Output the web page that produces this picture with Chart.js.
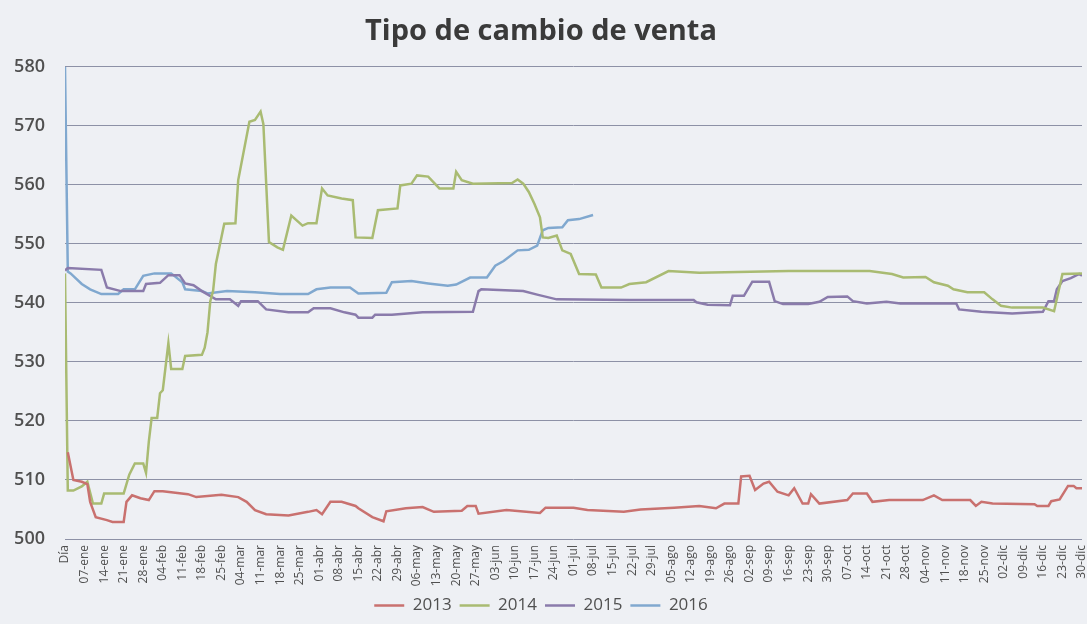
<!DOCTYPE html>
<html lang="es">
<head>
<meta charset="utf-8">
<title>Tipo de cambio de venta</title>
<script src="https://cdn.jsdelivr.net/npm/chart.js@4/dist/chart.umd.min.js"></script>
<style>
    html, body { margin: 0; padding: 0; background: #eef0f4; }
    #wrap { width: 1087px; height: 624px; }
</style>
</head>
<body>
<div id="wrap"><canvas id="tipoCambioChart"></canvas></div>
<script>
// etiquetas semanales del eje X (una cada 7 dias, empezando en "Día")
const tickLabels = ['Día', '07-ene', '14-ene', '21-ene', '28-ene', '04-feb', '11-feb', '18-feb', '25-feb',
    '04-mar', '11-mar', '18-mar', '25-mar', '01-abr', '08-abr', '15-abr', '22-abr', '29-abr',
    '06-may', '13-may', '20-may', '27-may', '03-jun', '10-jun', '17-jun', '24-jun',
    '01-jul', '08-jul', '15-jul', '22-jul', '29-jul', '05-ago', '12-ago', '19-ago', '26-ago',
    '02-sep', '09-sep', '16-sep', '23-sep', '30-sep', '07-oct', '14-oct', '21-oct', '28-oct',
    '04-nov', '11-nov', '18-nov', '25-nov', '02-dic', '09-dic', '16-dic', '23-dic', '30-dic'];

// dia del año (0 = "Día") y tipo de cambio
const days2013 = [1, 3, 6, 8, 9, 11, 15, 17, 21, 22, 24, 27, 30, 32, 35, 44, 47, 56, 62, 65, 68, 72, 80, 87, 90, 92, 95, 99,
    104, 105, 110, 114, 115, 122, 128, 132, 142, 144, 147, 148, 158, 170, 172, 182, 187, 200, 206, 218, 227, 233, 236,
    241, 242, 245, 247, 250, 252, 255, 259, 261, 264, 266, 267, 270, 280, 282, 287, 289, 295, 307, 311, 314, 324, 326,
    328, 332, 347, 348, 352, 353, 356, 359, 361, 362, 364];
const rate2013 = [514.7, 510, 509.7, 509.3, 506.3, 503.7, 503.2, 502.9, 502.9, 506.3, 507.4, 506.9, 506.6, 508.1, 508.1,
    507.6, 507.1, 507.5, 507.1, 506.3, 504.9, 504.2, 504, 504.6, 504.9, 504.2, 506.3, 506.3,
    505.6, 505.2, 503.7, 503, 504.7, 505.2, 505.4, 504.6, 504.8, 505.6, 505.6, 504.3, 504.9, 504.4, 505.3, 505.3, 504.9,
    504.6, 505, 505.3, 505.6, 505.2, 506, 506, 510.6, 510.7, 508.3, 509.4, 509.7, 508, 507.4, 508.6, 506, 506, 507.6,
    506, 506.6, 507.7, 507.7, 506.3, 506.6, 506.6, 507.4, 506.6, 506.6, 505.6, 506.3, 506, 505.9, 505.6, 505.6, 506.4,
    506.7, 509, 509, 508.6, 508.6];

const days2014 = [0, 1, 3, 6, 8, 10, 13, 14, 21, 23, 25, 28, 29, 30, 31, 33, 34, 35, 37, 38, 42, 43, 49, 50, 51, 52, 53,
    54, 57, 61, 62, 66, 68, 70, 71, 73, 76, 78, 81, 85, 87, 90, 92, 94, 99, 103, 104, 110, 112, 119, 120, 124, 126,
    130, 134, 139, 140, 142, 146, 160, 162, 164, 166, 168, 170, 171, 173, 176, 178, 181, 184, 190, 192, 199, 202, 208,
    216, 227, 259, 288, 296, 300, 308, 311, 316, 318, 323, 329, 332, 335, 339, 350, 354, 357, 364];
const rate2014 = [545, 508.2, 508.2, 508.9, 509.7, 506, 506, 507.7, 507.7, 510.9, 512.8, 512.8, 511.2, 516.5, 520.5,
    520.5, 524.7, 525.2, 533.2, 528.8, 528.8, 531, 531.2, 532.4, 535, 540.3, 542,
    546.6, 553.4, 553.5, 560.8, 570.7, 571, 572.4, 570.3, 550.3, 549.4, 549, 554.8, 553.1, 553.5, 553.5, 559.4, 558.2,
    557.7, 557.4, 551.1, 551, 555.7, 556, 559.9, 560.2, 561.6,
    561.4, 559.4, 559.4, 562.2, 560.8, 560.2, 560.3, 560.9, 560.2, 558.8, 556.8, 554.5, 551.1, 551, 551.4, 548.9, 548.3,
    544.9, 544.8, 542.6, 542.6, 543.2, 543.5,
    545.4, 545.1, 545.4, 545.4, 544.9, 544.3, 544.4, 543.5, 542.9, 542.3, 541.8, 541.8, 540.6, 539.5, 539.2, 539.2,
    538.6, 544.9, 545];

const days2015 = [0, 1, 13, 15, 20, 28, 29, 34, 37, 41, 43, 46, 49, 54, 59, 62, 63, 69, 72, 80, 87, 89, 95, 100, 104,
    105, 110, 111, 117, 128, 146, 148, 149, 164, 169, 176, 202, 225, 226, 230, 238, 239, 243, 246, 252, 254, 257, 266,
    270, 273, 280, 282, 287, 294, 299, 319, 320, 328, 339, 350, 352, 354, 355, 357, 360, 363, 364];
const rate2015 = [545.5, 545.9, 545.6, 542.6, 542, 542, 543.2, 543.4, 544.7, 544.7, 543.3, 543, 542, 540.6, 540.6, 539.5,
    540.3, 540.3, 538.9, 538.4, 538.4, 539.1, 539.1, 538.4, 538,
    537.5, 537.5, 538, 538, 538.4, 538.5, 542, 542.3, 542, 541.4, 540.6, 540.5, 540.5, 540.1, 539.7, 539.6, 541.2,
    541.2, 543.6, 543.6, 540.3, 539.8, 539.8,
    540.2, 541, 541.1, 540.3, 539.9, 540.2, 539.9, 539.9, 538.9, 538.5, 538.2, 538.5, 540.3, 540.3, 542.3, 543.7,
    544.2, 544.9, 544.6];

const days2016 = [0, 1, 2, 6, 9, 13, 19, 21, 25, 28, 32, 38, 42, 43, 49, 51, 58, 68, 77, 87, 90, 95, 102, 105, 115, 117,
    124, 130, 137, 140, 145, 151, 154, 157, 162, 166, 169, 171, 173, 178, 180, 184, 189];
const rate2016 = [580, 545.3, 545, 543.2, 542.3, 541.5, 541.5, 542.3, 542.3, 544.6, 545, 545, 543.5, 542.3, 542, 541.6,
    542, 541.8, 541.5, 541.5, 542.3, 542.6, 542.6, 541.6, 541.7, 543.5,
    543.7, 543.3, 542.9, 543.1, 544.3, 544.3, 546.3, 547.1, 548.9, 549, 549.7, 552.3, 552.7, 552.8, 554, 554.2, 554.9];

const series = [
    { label: '2013', days: days2013, values: rate2013, color: '#c9716f' },
    { label: '2014', days: days2014, values: rate2014, color: '#a9bb72' },
    { label: '2015', days: days2015, values: rate2015, color: '#8a7bab' },
    { label: '2016', days: days2016, values: rate2016, color: '#80a8cf' }
];

const textColor = '#505050';
const fontFamily = '"Open Sans", "DejaVu Sans", sans-serif';

const ctx = document.getElementById('tipoCambioChart').getContext('2d');

new Chart(ctx, {
    type: 'line',
    data: {
        datasets: series.map(s => ({
            label: s.label,
            data: s.days.map((d, i) => ({ x: d, y: s.values[i] })),
            borderColor: s.color,
            backgroundColor: s.color,
            borderWidth: 2.5,
            pointRadius: 0,
            tension: 0
        }))
    },
    options: {
        responsive: true,
        maintainAspectRatio: false,
        animation: false,
        layout: {
            padding: { top: 6, right: 5, bottom: 0, left: 0 }
        },
        scales: {
            x: {
                type: 'linear',
                min: 0,
                max: 364,
                grid: { display: false, drawTicks: false },
                border: { display: false },
                afterBuildTicks: axis => {
                    axis.ticks = tickLabels.map((_, i) => ({ value: i * 7 }));
                },
                afterFit: axis => {
                    axis.height = 50;
                    axis.paddingLeft = 0;
                    axis.paddingRight = 0;
                },
                ticks: {
                    autoSkip: false,
                    minRotation: 90,
                    maxRotation: 90,
                    padding: 6,
                    color: textColor,
                    font: { family: fontFamily, size: 12 },
                    callback: value => tickLabels[Math.round(value / 7)]
                }
            },
            y: {
                min: 500,
                max: 580,
                grid: { color: '#8d91a6', lineWidth: 1, drawTicks: false },
                border: { display: false },
                afterFit: axis => { axis.width = 65; },
                ticks: {
                    stepSize: 10,
                    padding: 20,
                    color: textColor,
                    font: { family: fontFamily, size: 18, weight: '600' }
                }
            }
        },
        plugins: {
            title: {
                display: true,
                text: 'Tipo de cambio de venta',
                color: '#3a3a3a',
                font: { family: fontFamily, size: 29, weight: 'bold' },
                padding: { top: 8, bottom: 18 }
            },
            legend: {
                position: 'bottom',
                labels: {
                    usePointStyle: true,
                    pointStyle: 'line',
                    pointStyleWidth: 30,
                    padding: 8,
                    color: textColor,
                    font: { family: fontFamily, size: 17 }
                }
            },
            tooltip: { enabled: false }
        }
    }
});
</script>
</body>
</html>
